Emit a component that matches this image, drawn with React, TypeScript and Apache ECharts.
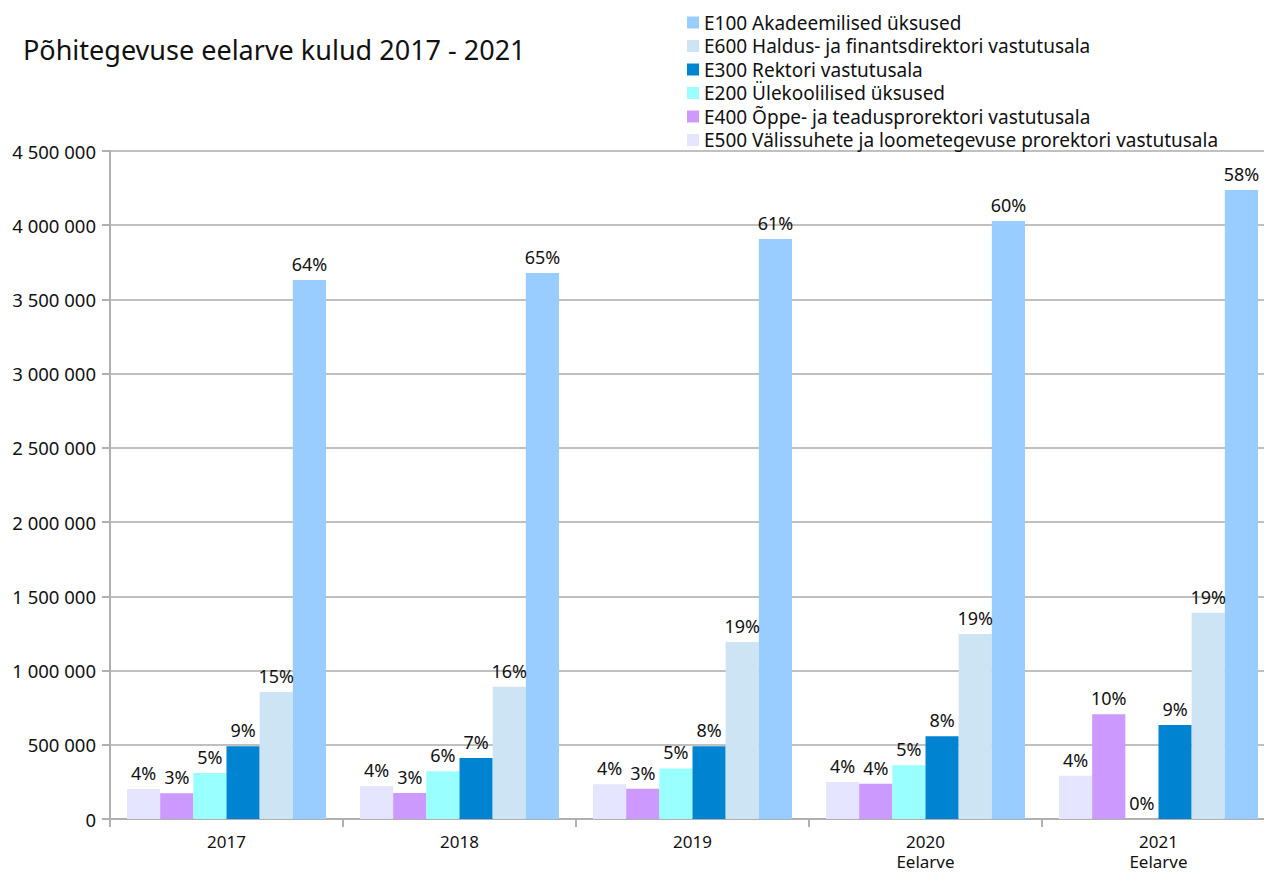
import React, { useEffect, useRef } from "react";
import * as echarts from "echarts";

const categories = ["2017", "2018", "2019", "2020\nEelarve", "2021\nEelarve"];

const e500 = [202000, 222000, 234000, 249000, 292000];
const e400 = [173000, 175000, 204000, 238000, 705000];
const e200 = [310000, 321000, 341000, 362000, 0];
const e300 = [490000, 411000, 490000, 557000, 633000];
const e600 = [855000, 891000, 1192000, 1246000, 1390000];
const e100 = [3631000, 3678000, 3907000, 4028000, 4237000];

const pct500 = ["4%", "4%", "4%", "4%", "4%"];
const pct400 = ["3%", "3%", "3%", "4%", "10%"];
const pct200 = ["5%", "6%", "5%", "5%", "0%"];
const pct300 = ["9%", "7%", "8%", "8%", "9%"];
const pct600 = ["15%", "16%", "19%", "19%", "19%"];
const pct100 = ["64%", "65%", "61%", "60%", "58%"];

const yTicks = [0, 500000, 1000000, 1500000, 2000000, 2500000, 3000000, 3500000, 4000000, 4500000];

const seriesDefs = [
  { name: "E500 Välissuhete ja loometegevuse prorektori vastutusala", data: e500, pct: pct500, color: "#E5E5FF" },
  { name: "E400 Õppe- ja teadusprorektori vastutusala", data: e400, pct: pct400, color: "#CC99FF" },
  { name: "E200 Ülekoolilised üksused", data: e200, pct: pct200, color: "#99FFFF" },
  { name: "E300 Rektori vastutusala", data: e300, pct: pct300, color: "#0084D1" },
  { name: "E600 Haldus- ja finantsdirektori vastutusala", data: e600, pct: pct600, color: "#CCE4F4" },
  { name: "E100 Akadeemilised üksused", data: e100, pct: pct100, color: "#99CCFF" },
];

const legendOrder = [5, 4, 3, 2, 1, 0].map((i) => seriesDefs[i].name);

const FONT = "Noto Sans";

function fmt(v: number): string {
  return String(v).replace(/\B(?=(\d{3})+(?!\d))/g, " ");
}

export default function App() {
  const ref = useRef<HTMLDivElement>(null);
  useEffect(() => {
    if (!ref.current) return;
    const chart = echarts.init(ref.current, undefined, { renderer: "svg" });
    chart.setOption({
      animation: false,
      backgroundColor: "#ffffff",
      textStyle: { fontFamily: FONT },
      title: {
        text: "Põhitegevuse eelarve kulud 2017 - 2021",
        left: 18,
        top: 31,
        textStyle: { fontFamily: FONT, fontSize: 27, fontWeight: "normal", color: "#111" },
      },
      legend: {
        orient: "vertical",
        left: 682,
        top: 8,
        itemWidth: 12,
        itemHeight: 12,
        itemGap: 4.5,
        icon: "rect",
        data: legendOrder,
        textStyle: { fontFamily: FONT, fontSize: 19, lineHeight: 19, color: "#111", padding: [0, 0, 0, 0] },
      },
      grid: {
        left: 110,
        width: 1165,
        top: 151,
        bottom: 53,
        containLabel: false,
        outerBoundsMode: "none",
      },
      xAxis: {
        type: "category",
        data: categories,
        axisLine: { lineStyle: { color: "#b0b0b0", width: 2 } },
        axisTick: { show: true, length: 8, lineStyle: { color: "#b0b0b0", width: 2 } },
        axisLabel: { fontFamily: FONT, fontSize: 17, color: "#111", lineHeight: 20.5, margin: 12, verticalAlign: "top" },
      },
      yAxis: {
        type: "value",
        min: 0,
        max: 4500000,
        interval: 500000,
        axisLine: { show: true, lineStyle: { color: "#b0b0b0", width: 2 } },
        axisTick: { show: true, length: 8, lineStyle: { color: "#b0b0b0", width: 2 } },
        splitLine: { show: true, lineStyle: { color: "#c0c0c0", width: 2 } },
        axisLabel: {
          fontFamily: FONT,
          fontSize: 18.5,
          color: "#111",
          margin: 14,
          formatter: (v: number) => (yTicks.includes(v) ? fmt(v) : ""),
        },
      },
      series: seriesDefs.map((s) => ({
        type: "bar",
        name: s.name,
        data: s.data,
        barGap: "0%",
        barCategoryGap: "14.6%",
        itemStyle: { color: s.color },
        label: {
          show: true,
          position: "top",
          distance: 7,
          fontFamily: FONT,
          fontSize: 18,
          color: "#111",
          formatter: (p: any) => s.pct[p.dataIndex],
        },
      })),
    });
    return () => chart.dispose();
  }, []);
  return (
    <div
      ref={ref}
      style={{ position: "fixed", left: 0, top: 0, width: 1264, height: 872 }}
    />
  );
}
